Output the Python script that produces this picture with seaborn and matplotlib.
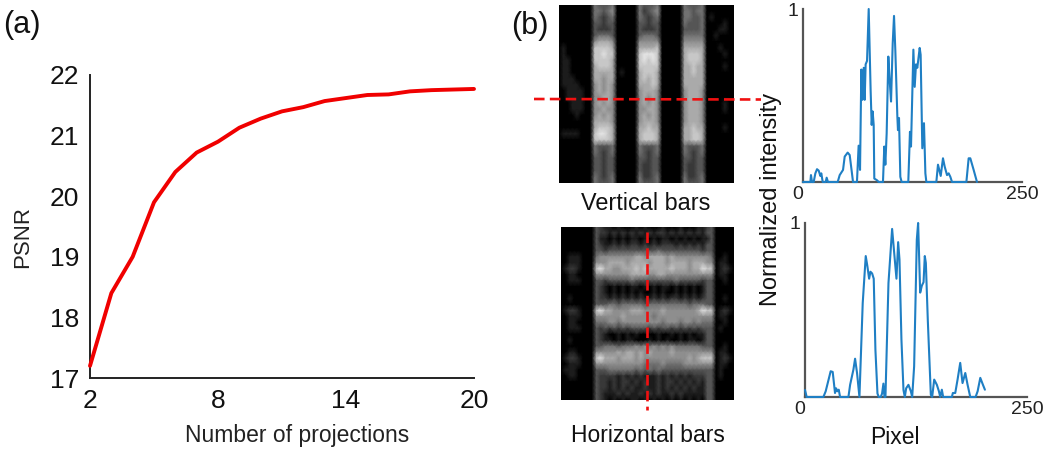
"""PSNR curve, bar phantom reconstructions and their line profiles."""

import matplotlib.pyplot as plt
import numpy as np
import pandas as pd
import seaborn as sns

FIG_W, FIG_H = 1050, 451

projections = list(range(2, 21))
psnr = [17.2, 18.4, 19.0, 19.9, 20.4, 20.72, 20.9, 21.13, 21.28, 21.4,
        21.47, 21.57, 21.62, 21.67, 21.68, 21.73, 21.75, 21.76, 21.77]

vertical_pixel = [0, 8.4, 9.1, 10.3, 12.2, 14.1, 16, 17.9, 19.8, 20.9, 22.5, 25.9, 27, 28.5,
                  39.6, 41.9, 45.7, 47.6, 51, 53.3, 55.9, 57.1, 61.6, 63.5, 65.1, 66.6, 67.7,
                  69.3, 70.4, 71.5, 73.1, 75, 77.2, 78.4, 79.5, 80.7, 81.4, 84.5, 86.4, 91.3,
                  92.8, 94, 95.5, 97.4, 98.9, 100.5, 102.4, 103.9, 105.4, 107.7, 108.4, 109.6,
                  111.1, 112.6, 120.2, 122.1, 123.3, 126, 127.5, 129, 130.5, 133.2, 134.3,
                  136.2, 138.1, 139.7, 140.8, 152.2, 154.1, 157.2, 159.8, 161.7, 164.4, 166.3,
                  168.2, 170.1, 186.5, 189.1, 191, 194.8, 198.6]
vertical_intensity = [0, 0, .04, 0, 0, .05, .074, .066, .035, .05, 0, 0, .025, 0,
                      0, .04, .07, .147, .17, .156, .05, 0, 0, .21, .07, .65, .475,
                      .66, .475, .68, .70, 1.0, .53, .33, .408, .33, .02, .01, 0, 0,
                      .205, .1, .28, .725, .59, .465, .80, .96, .76, .38, .30, .37,
                      .03, 0, 0, .29, .205, .765, .55, .68, .66, .775, .735,
                      .195, .34, .05, 0, 0, .1, .035, .137, .09, .04, .05,
                      .03, 0, 0, .137, .137, .07, 0]

horizontal_pixel = [0, 1.9, 20.7, 23.3, 28.9, 31.2, 33.8, 35, 36.5, 38, 39.5, 48.9, 50.8, 54.5,
                    56.4, 58.6, 61.3, 65, 68.4, 70.3, 72.2, 73.7, 75.6, 77.4, 79.3, 81.6, 83.1,
                    85.3, 86.8, 88.3, 89.5, 90.6, 94, 98.1, 101.1, 103, 104.9, 106.4, 108.6,
                    110.9, 112.4, 113.9, 116.5, 119.2, 120.7, 122.9, 125.9, 127.4, 129.7, 131.6,
                    133.5, 134.9, 136.1, 138.3, 141.7, 143.2, 145.5, 148.5, 150.8, 152.3, 154.1,
                    155.6, 165.4, 166.5, 169.2, 171.8, 174.8, 177.4, 180.5, 183.1, 186.1, 192.1,
                    194.4, 197.4, 200.4, 202.6]
horizontal_intensity = [.04, 0, 0, .033, .148, .144, .023, .05, .033, .042, 0, 0, .07, .157,
                        .22, .138, 0, .54, .81, .75, .68, .72, .71, .68, .27, .02, 0,
                        0, .02, .077, 0, 0, .655, .966, .79, .68, .89, .79, .33,
                        .04, 0, .05, .07, .033, 0, .176, .904, 1.0, .6, .64,
                        .66, .81, .77, .44, .013, 0, .1, .07, .033, 0, .042,
                        0, 0, .023, .023, .1, .196, .08, .138, .07, 0, 0,
                        .033, .11, .07, .042]

# grey levels 0-9
vertical_bars = [
    "0000000043334000004333400000433340000000",
    "0000000044345000004234500000443440000000",
    "0000000043234000004323400000443340100000",
    "0000000033233000003323300000433340000100",
    "0000000032223000003222300000333340001100",
    "0000000034443000003444300000444440010000",
    "0000000056665000005555500000555550000000",
    "0100000077776000006666700000666660001000",
    "0100000077877000007888700000677760000100",
    "0110000077776000007878700000677760000000",
    "0110000067776000007777700000667660000100",
    "0110000066666010006777600000667660000000",
    "0111000066566000006767600000666660000000",
    "0111100056565000006667600000666660000000",
    "0011110056565000005666500000566650000000",
    "0011110055665000005656500000566650000000",
    "0001110056565000005656500000566650000100",
    "0001110055655000005566500000566650000100",
    "0000100056565000005656500000566650000000",
    "0000000066665000005666500000566650000000",
    "0000000067776000006676600000667660000100",
    "0111100078876000006777600000667760000000",
    "0000000077776000006777600000667760000000",
    "0000000043334000004333400000433340000000",
    "0000000043234000004323400000432340000000",
    "0000000033233000003323300000332330000000",
    "0000000033233000003223300000322330000000",
    "0000000033233000003223300000322330000000",
    "0000000043234000004223400000422340000000",
    "0000000043334000004333400000433340000000",
]
horizontal_bars = [
    "0000000032110100010100010001000112300000",
    "0000000032212121212121221212121213300000",
    "0000000031101010110101011010101011300000",
    "0000000032112121221212122212121213300000",
    "0000000033233333333333433333333323300000",
    "0011100045555555566566665655555555400100",
    "0011100055566665666656665666656665501100",
    "0122100078665566676766666766656687701210",
    "0011000055555555666655665555555555501100",
    "0011100033233333433333333343333323300100",
    "0000000032101010110101011010101013300000",
    "0000000032101010101001010010101013300000",
    "0010000032212121212112121221212123300100",
    "0000000033344344444344444444434443300000",
    "0122100078665555666555565555555687701210",
    "0011100055555565555554555555555555501100",
    "0011000044455455555555545554554544400100",
    "0011100032323232333323233232323233301000",
    "0000000032100101010000100101010113300000",
    "0010000032110101100010101001011013300000",
    "0000000033444344454545454544444433300100",
    "0011000055555656656565555655555555501100",
    "0122100078666566656555555555565677701210",
    "0011100055555555555444454444555555501100",
    "0111000033344444434343433333333333301000",
    "0011000032222121212111212121212223301000",
    "0000000032212122121211212212121213300000",
    "0000000032212121211211212121212113300000",
    "0000000032111212112121211212111113300000",
    "0000000032101010110101010101010103300000",
]


def to_grid(rows):
    return np.array([[int(c) / 9 for c in row] for row in rows])


def axes_px(fig, left, top, right, bottom):
    return fig.add_axes([left / FIG_W, 1 - bottom / FIG_H,
                         (right - left) / FIG_W, (bottom - top) / FIG_H])


def draw_image(fig, box, rows):
    ax = axes_px(fig, *box)
    grid = to_grid(rows)
    sns.heatmap(grid, ax=ax, cmap="gray", vmin=0, vmax=1, cbar=False,
                xticklabels=False, yticklabels=False, shading="gouraud")
    ax.set_xlim(0, grid.shape[1] - 1)
    ax.set_ylim(grid.shape[0] - 1, 0)
    return ax


def draw_profile(fig, box, pixel, intensity):
    ax = axes_px(fig, *box)
    frame = pd.DataFrame({"pixel": pixel, "intensity": intensity})
    sns.lineplot(data=frame, x="pixel", y="intensity", ax=ax, color="#1f7fc4",
                 linewidth=1.5, estimator=None, sort=False, clip_on=False, zorder=3)
    ax.set_xlim(0, 250)
    ax.set_ylim(0, 1)
    ax.set_xticks([0, 250])
    ax.set_yticks([1])
    ax.set_xlabel("")
    ax.set_ylabel("")
    ax.tick_params(length=0, labelsize=14, colors="#222222", pad=3)
    ax.get_xticklabels()[0].set_ha("right")
    for side in ("left", "bottom"):
        ax.spines[side].set_color("#555555")
        ax.spines[side].set_linewidth(1.6)
    sns.despine(ax=ax)
    return ax


sns.set_theme(style="white")
plt.rcParams["font.family"] = ["Liberation Sans", "DejaVu Sans"]

fig = plt.figure(figsize=(FIG_W / 100, FIG_H / 100), dpi=100)

ax_a = axes_px(fig, 90, 75, 474, 378)
curve = pd.DataFrame({"projections": projections, "psnr": psnr})
sns.lineplot(data=curve, x="projections", y="psnr", ax=ax_a, color="#f00000",
             linewidth=2.8, clip_on=False, zorder=3)
ax_a.set_xlim(2, 20)
ax_a.set_ylim(17, 22)
ax_a.set_xticks([2, 8, 14, 20])
ax_a.set_yticks([17, 18, 19, 20, 21, 22])
ax_a.tick_params(direction="in", length=2.5, width=1, color="#222222",
                 labelsize=19, labelcolor="#111111", pad=8)
ax_a.set_xlabel("Number of projections", fontsize=16.5, color="#222222", labelpad=8, x=0.54)
ax_a.set_ylabel("PSNR", fontsize=16, color="#222222", labelpad=12, y=0.465)
for side in ("left", "bottom"):
    ax_a.spines[side].set_color("#222222")
    ax_a.spines[side].set_linewidth(1.4)
sns.despine(ax=ax_a)

draw_image(fig, (559, 5, 734, 183), vertical_bars)
draw_image(fig, (561, 227, 734, 400), horizontal_bars)
draw_profile(fig, (803, 9, 1022, 182), vertical_pixel, vertical_intensity)
draw_profile(fig, (805, 223, 1027, 397), horizontal_pixel, horizontal_intensity)

# overlay in pixel units for the panel letters, captions and cut lines
overlay = axes_px(fig, 0, 0, FIG_W, FIG_H)
overlay.set_xlim(0, FIG_W)
overlay.set_ylim(FIG_H, 0)
overlay.axis("off")
overlay.patch.set_alpha(0)
dash = dict(color="#f01010", linewidth=1.9, dashes=(4, 2))
overlay.plot([534, 761], [99, 99.5], **dash)
overlay.plot([647, 647], [232, 410], **dash)
overlay.text(3, 25, "(a)", fontsize=22, color="#111111", va="center")
overlay.text(511, 26, "(b)", fontsize=22, color="#111111", va="center")
overlay.text(646, 204, "Vertical bars", fontsize=16.8, color="#111111", ha="center", va="center")
overlay.text(648, 435, "Horizontal bars", fontsize=16.5, color="#111111", ha="center", va="center")
overlay.text(895, 437, "Pixel", fontsize=16.5, color="#111111", ha="center", va="center")
overlay.text(771, 199, "Normalized intensity", fontsize=17, color="#111111",
             rotation=90, ha="center", va="center")

fig.savefig("out.png", dpi=100)
plt.close(fig)
